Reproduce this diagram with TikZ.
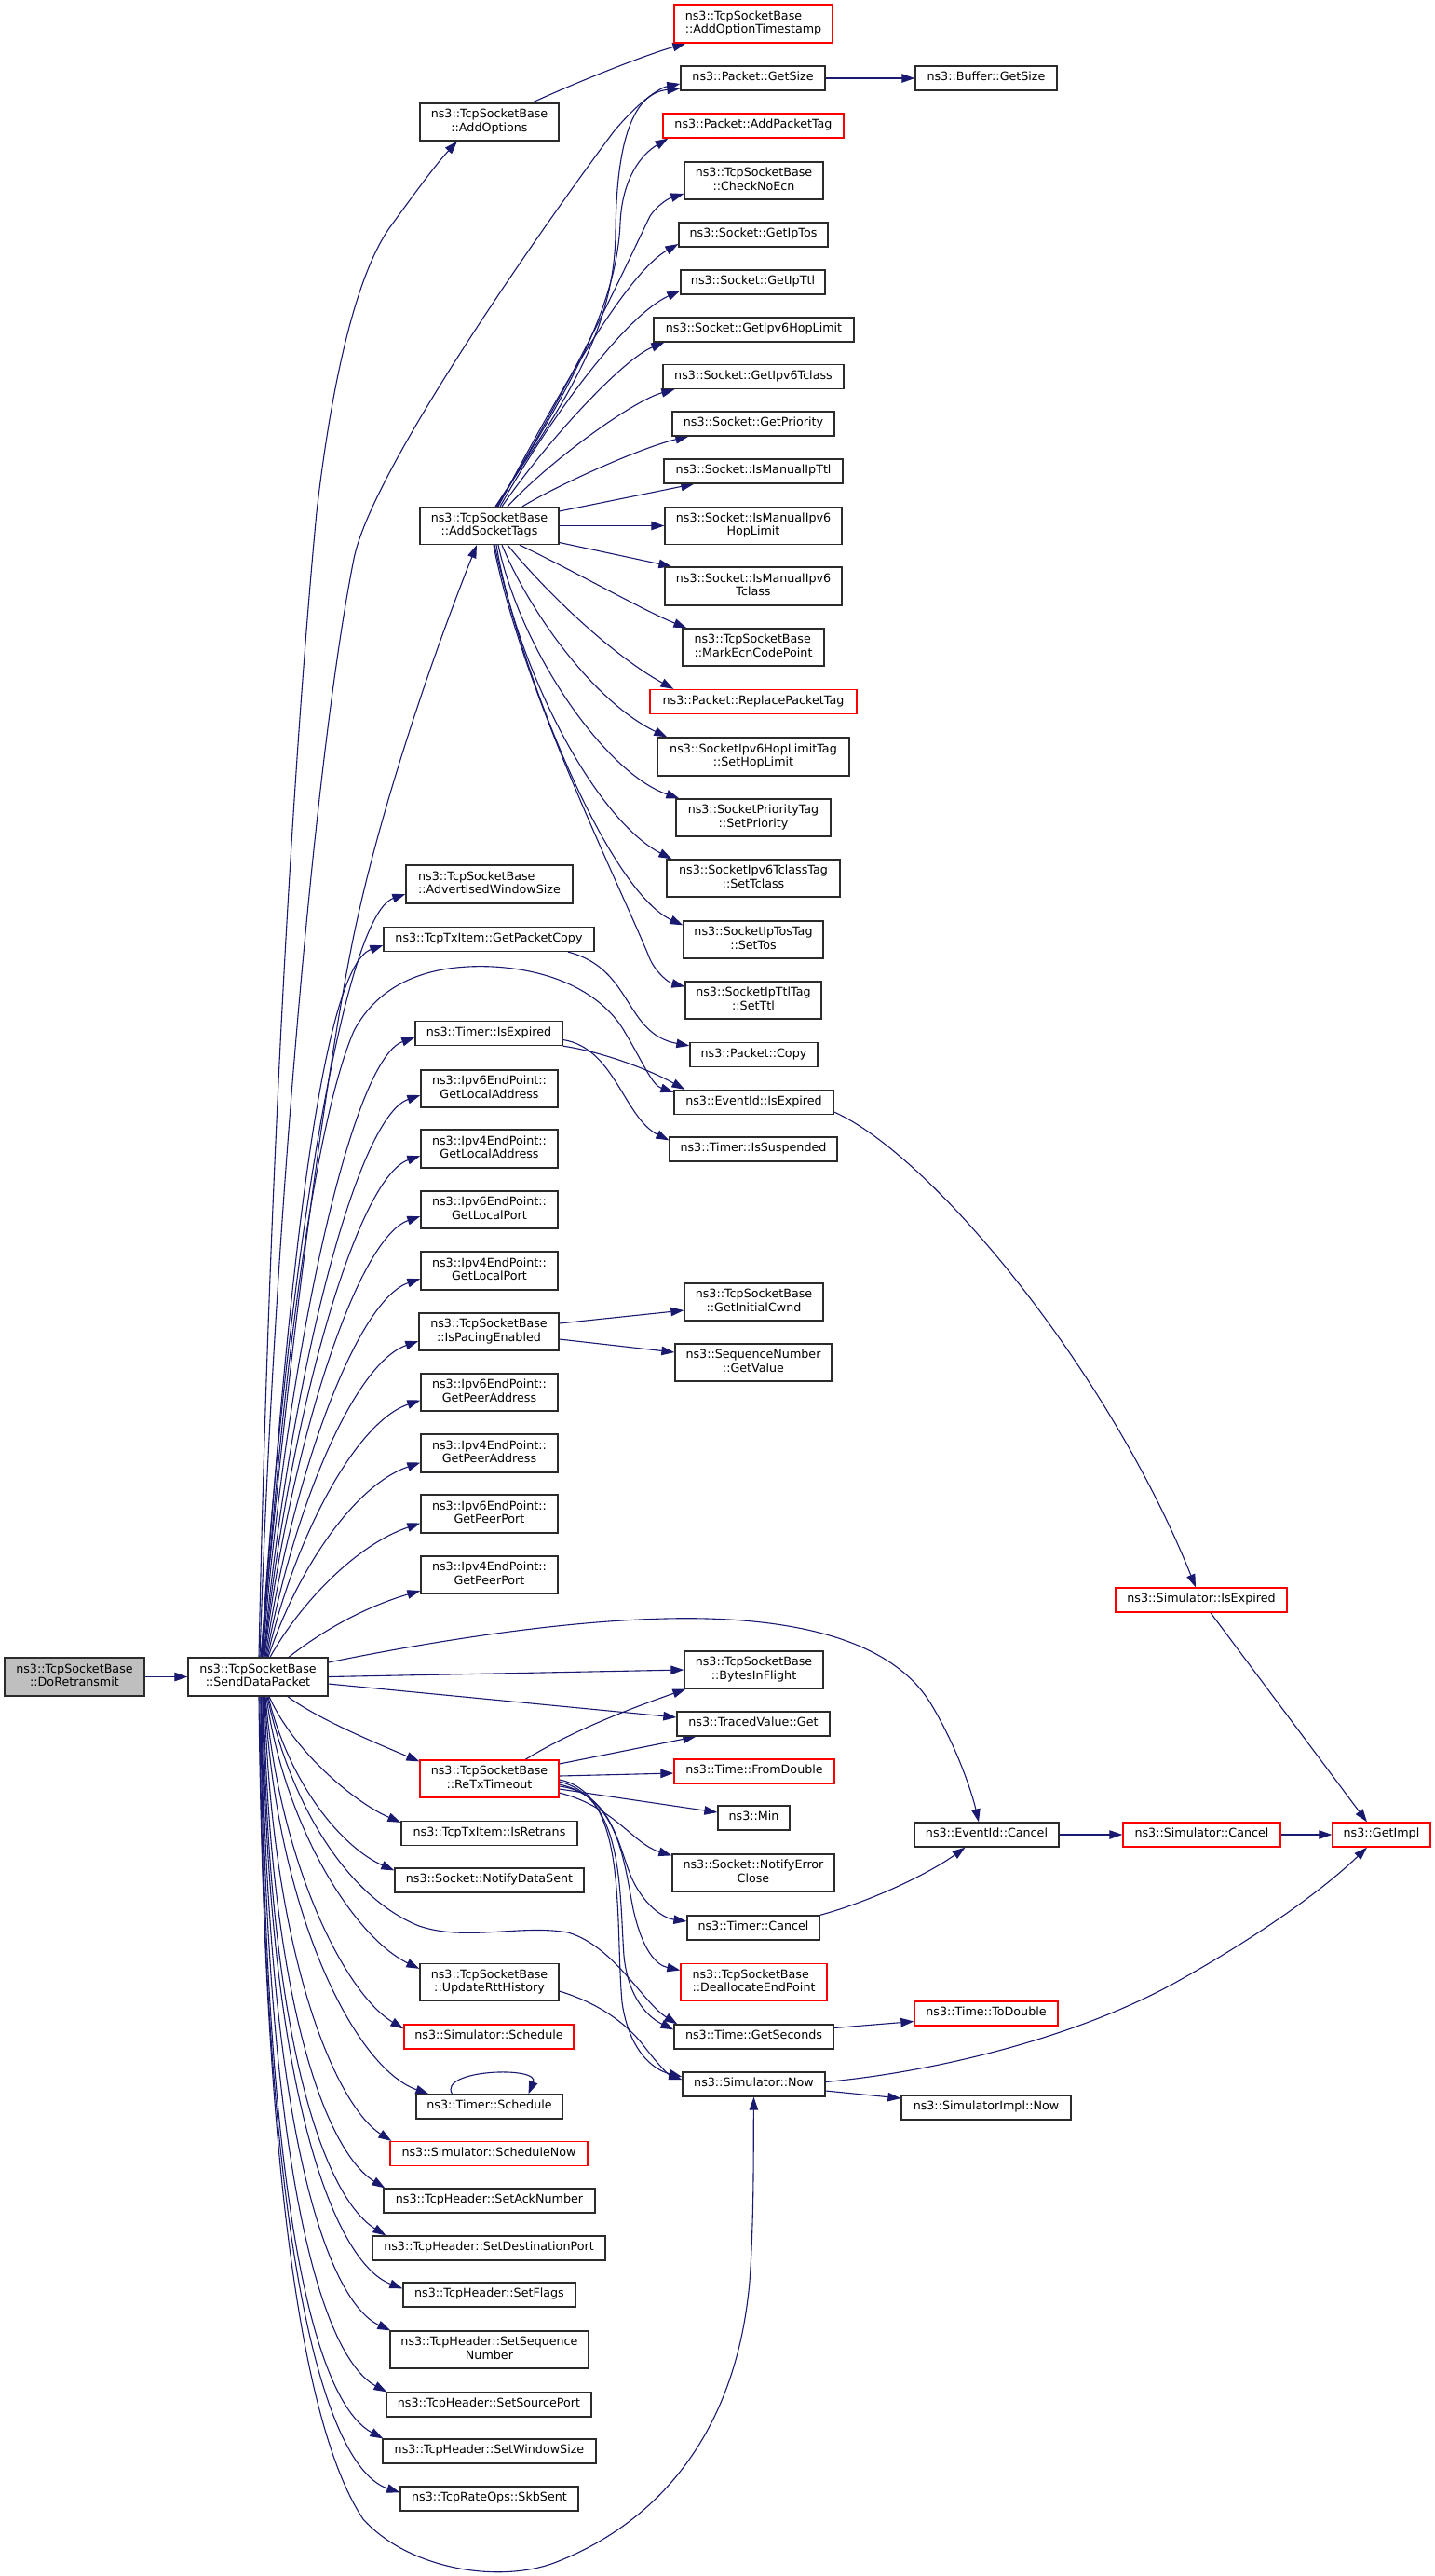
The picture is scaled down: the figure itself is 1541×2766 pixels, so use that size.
\documentclass[tikz,border=0pt]{standalone}
\usepackage{fontspec}
\setmainfont{DejaVu Sans}
\usetikzlibrary{arrows.meta}
\definecolor{edgec}{HTML}{191970}
\definecolor{boxc}{HTML}{2B2B2B}
\definecolor{grayfill}{HTML}{BFBFBF}
\pgfdeclarelayer{edges}
\pgfsetlayers{edges,main}
\begin{document}
\begin{tikzpicture}[x=1pt,y=-1pt,
  font=\fontsize{12.7pt}{14.8pt}\selectfont,
  nd/.style={draw=boxc, line width=1.3pt, fill=white, inner sep=0pt, align=center, text=black},
  rd/.style={nd, draw=red},
  e/.style={draw=edgec, line width=1.1pt, -{Triangle[length=14pt,width=9.5pt]}}]
\useasboundingbox (0,0) rectangle (1541,2766);
% ---------- nodes ----------
\node[nd, fill=grayfill, minimum width=150pt, minimum height=41pt] (doret) at (80,1800.5) {\strut ns3::TcpSocketBase\\\strut ::DoRetransmit};
\node[nd, minimum width=150pt, minimum height=41pt] (sdp) at (277,1800.5) {\strut ns3::TcpSocketBase\\\strut ::SendDataPacket};
\node[nd, minimum width=149pt, minimum height=40pt] (addopt) at (525.5,131) {\strut ns3::TcpSocketBase\\\strut ::AddOptions};
\node[rd, align=left, minimum width=170pt, minimum height=41pt] (addts) at (809,25.5) {\strut ns3::TcpSocketBase\\\strut ::AddOptionTimestamp};
\node[nd, minimum width=155pt, minimum height=26pt] (pgetsize) at (808.5,84) {\strut ns3::Packet::GetSize};
\node[nd, minimum width=152pt, minimum height=26pt] (bgetsize) at (1059,84) {\strut ns3::Buffer::GetSize};
\node[rd, minimum width=194pt, minimum height=26pt] (addpt) at (809,135) {\strut ns3::Packet::AddPacketTag};
\node[nd, minimum width=149pt, minimum height=40pt] (checknoecn) at (809.5,194) {\strut ns3::TcpSocketBase\\\strut ::CheckNoEcn};
\node[nd, minimum width=160pt, minimum height=26pt] (getiptos) at (809,252) {\strut ns3::Socket::GetIpTos};
\node[nd, minimum width=155pt, minimum height=26pt] (getipttl) at (808.5,303) {\strut ns3::Socket::GetIpTtl};
\node[nd, minimum width=215pt, minimum height=26pt] (getv6hl) at (809.5,354) {\strut ns3::Socket::GetIpv6HopLimit};
\node[nd, minimum width=194pt, minimum height=26pt] (getv6tc) at (809,404.5) {\strut ns3::Socket::GetIpv6Tclass};
\node[nd, minimum width=174pt, minimum height=26pt] (getprio) at (809,455) {\strut ns3::Socket::GetPriority};
\node[nd, minimum width=192pt, minimum height=26pt] (ismipttl) at (809,506) {\strut ns3::Socket::IsManualIpTtl};
\node[nd, minimum width=149pt, minimum height=40pt] (addsock) at (525.5,564.5) {\strut ns3::TcpSocketBase\\\strut ::AddSocketTags};
\node[nd, minimum width=190pt, minimum height=40pt] (ismv6hl) at (809,564.5) {\strut ns3::Socket::IsManualIpv6\\\strut HopLimit};
\node[nd, minimum width=190pt, minimum height=41pt] (ismv6tc) at (809,629.5) {\strut ns3::Socket::IsManualIpv6\\\strut Tclass};
\node[nd, align=left, minimum width=152pt, minimum height=40pt] (markecn) at (809,695) {\strut ns3::TcpSocketBase\\\strut ::MarkEcnCodePoint};
\node[rd, minimum width=222pt, minimum height=26pt] (replpt) at (809,753.5) {\strut ns3::Packet::ReplacePacketTag};
\node[nd, minimum width=206pt, minimum height=41pt] (sethl) at (809,812.5) {\strut ns3::SocketIpv6HopLimitTag\\\strut ::SetHopLimit};
\node[nd, minimum width=166pt, minimum height=40pt] (setprio) at (809,878) {\strut ns3::SocketPriorityTag\\\strut ::SetPriority};
\node[nd, minimum width=186pt, minimum height=40pt] (settc) at (809,943) {\strut ns3::SocketIpv6TclassTag\\\strut ::SetTclass};
\node[nd, minimum width=150pt, minimum height=40pt] (settos) at (809,1009) {\strut ns3::SocketIpTosTag\\\strut ::SetTos};
\node[nd, minimum width=146pt, minimum height=40pt] (setttl) at (809,1074) {\strut ns3::SocketIpTtlTag\\\strut ::SetTtl};
\node[nd, align=left, minimum width=179pt, minimum height=41pt] (advwin) at (525.5,949.5) {\strut ns3::TcpSocketBase\\\strut ::AdvertisedWindowSize};
\node[nd, minimum width=226pt, minimum height=26pt] (getpc) at (525,1008.5) {\strut ns3::TcpTxItem::GetPacketCopy};
\node[nd, minimum width=137pt, minimum height=26pt] (pcopy) at (809.5,1132.5) {\strut ns3::Packet::Copy};
\node[nd, minimum width=158pt, minimum height=26pt] (timexp) at (525,1109.5) {\strut ns3::Timer::IsExpired};
\node[nd, minimum width=171pt, minimum height=26pt] (evexp) at (809.5,1183.5) {\strut ns3::EventId::IsExpired};
\node[nd, minimum width=180pt, minimum height=26pt] (timsusp) at (809,1234) {\strut ns3::Timer::IsSuspended};
\node[nd, minimum width=147pt, minimum height=40pt] (v6la) at (525.5,1169) {\strut ns3::Ipv6EndPoint::\\\strut GetLocalAddress};
\node[nd, minimum width=147pt, minimum height=41pt] (v4la) at (525.5,1233.5) {\strut ns3::Ipv4EndPoint::\\\strut GetLocalAddress};
\node[nd, minimum width=147pt, minimum height=40pt] (v6lp) at (525.5,1299) {\strut ns3::Ipv6EndPoint::\\\strut GetLocalPort};
\node[nd, minimum width=147pt, minimum height=41pt] (v4lp) at (525.5,1364.5) {\strut ns3::Ipv4EndPoint::\\\strut GetLocalPort};
\node[nd, minimum width=150pt, minimum height=40pt] (pacing) at (525,1430) {\strut ns3::TcpSocketBase\\\strut ::IsPacingEnabled};
\node[nd, minimum width=149pt, minimum height=40pt] (initcwnd) at (809.5,1398) {\strut ns3::TcpSocketBase\\\strut ::GetInitialCwnd};
\node[nd, minimum width=168pt, minimum height=40pt] (seqval) at (809,1463) {\strut ns3::SequenceNumber\\\strut ::GetValue};
\node[nd, minimum width=147pt, minimum height=40pt] (v6pa) at (525.5,1495) {\strut ns3::Ipv6EndPoint::\\\strut GetPeerAddress};
\node[nd, minimum width=147pt, minimum height=41pt] (v4pa) at (525.5,1560.5) {\strut ns3::Ipv4EndPoint::\\\strut GetPeerAddress};
\node[nd, minimum width=147pt, minimum height=41pt] (v6pp) at (525.5,1625.5) {\strut ns3::Ipv6EndPoint::\\\strut GetPeerPort};
\node[nd, minimum width=147pt, minimum height=40pt] (v4pp) at (525.5,1691) {\strut ns3::Ipv4EndPoint::\\\strut GetPeerPort};
\node[rd, minimum width=184pt, minimum height=26pt] (simexp) at (1290,1718) {\strut ns3::Simulator::IsExpired};
\node[nd, minimum width=149pt, minimum height=40pt] (bif) at (809.5,1793) {\strut ns3::TcpSocketBase\\\strut ::BytesInFlight};
\node[nd, minimum width=164pt, minimum height=26pt] (tvget) at (809,1851) {\strut ns3::TracedValue::Get};
\node[rd, minimum width=149pt, minimum height=40pt] (retx) at (525.5,1910) {\strut ns3::TcpSocketBase\\\strut ::ReTxTimeout};
\node[rd, minimum width=172pt, minimum height=26pt] (fromdbl) at (810,1902) {\strut ns3::Time::FromDouble};
\node[nd, minimum width=77pt, minimum height=26pt] (min) at (809.5,1952) {\strut ns3::Min};
\node[nd, minimum width=189pt, minimum height=26pt] (isretrans) at (525.5,1968.5) {\strut ns3::TcpTxItem::IsRetrans};
\node[nd, minimum width=155pt, minimum height=26pt] (evcancel) at (1059.5,1970) {\strut ns3::EventId::Cancel};
\node[rd, minimum width=169pt, minimum height=26pt] (simcancel) at (1290.5,1970) {\strut ns3::Simulator::Cancel};
\node[rd, minimum width=105pt, minimum height=26pt] (getimpl) at (1483.5,1970) {\strut ns3::GetImpl};
\node[nd, minimum width=174pt, minimum height=40pt] (errclose) at (809,2011) {\strut ns3::Socket::NotifyError\\\strut Close};
\node[nd, minimum width=203pt, minimum height=26pt] (datasent) at (525.5,2019) {\strut ns3::Socket::NotifyDataSent};
\node[nd, minimum width=142pt, minimum height=26pt] (tcancel) at (809,2070) {\strut ns3::Timer::Cancel};
\node[rd, align=left, minimum width=157pt, minimum height=40pt] (dealloc) at (809.5,2128.5) {\strut ns3::TcpSocketBase\\\strut ::DeallocateEndPoint};
\node[nd, minimum width=149pt, minimum height=40pt] (rtthist) at (525.5,2128.5) {\strut ns3::TcpSocketBase\\\strut ::UpdateRttHistory};
\node[rd, minimum width=154pt, minimum height=26pt] (todbl) at (1059,2162) {\strut ns3::Time::ToDouble};
\node[rd, minimum width=182pt, minimum height=26pt] (simsched) at (525,2187) {\strut ns3::Simulator::Schedule};
\node[nd, minimum width=171pt, minimum height=26pt] (getsec) at (809.5,2187) {\strut ns3::Time::GetSeconds};
\node[nd, minimum width=153pt, minimum height=26pt] (simnow) at (809.5,2238) {\strut ns3::Simulator::Now};
\node[nd, minimum width=182pt, minimum height=26pt] (implnow) at (1059,2263) {\strut ns3::SimulatorImpl::Now};
\node[nd, minimum width=157pt, minimum height=26pt] (tsched) at (525.5,2262) {\strut ns3::Timer::Schedule};
\node[rd, minimum width=212pt, minimum height=26pt] (schednow) at (525,2312.5) {\strut ns3::Simulator::ScheduleNow};
\node[nd, minimum width=227pt, minimum height=26pt] (setack) at (525.5,2363) {\strut ns3::TcpHeader::SetAckNumber};
\node[nd, minimum width=250pt, minimum height=26pt] (setdst) at (525,2414) {\strut ns3::TcpHeader::SetDestinationPort};
\node[nd, minimum width=185pt, minimum height=26pt] (setflags) at (525.5,2464) {\strut ns3::TcpHeader::SetFlags};
\node[nd, minimum width=213pt, minimum height=40pt] (setseq) at (525.5,2523) {\strut ns3::TcpHeader::SetSequence\\\strut Number};
\node[nd, minimum width=220pt, minimum height=26pt] (setsrc) at (525,2582) {\strut ns3::TcpHeader::SetSourcePort};
\node[nd, minimum width=229pt, minimum height=26pt] (setwin) at (525.5,2632) {\strut ns3::TcpHeader::SetWindowSize};
\node[nd, minimum width=191pt, minimum height=26pt] (skb) at (525.5,2683) {\strut ns3::TcpRateOps::SkbSent};
% ---------- edges ----------
\begin{pgfonlayer}{edges}
\fill[white] (0,0) rectangle (1541,2766);
\draw[e] (doret.east) -- (sdp.west);
\draw[e] (pgetsize.east) -- (bgetsize.west);
\draw[e] ([xshift=45.5pt]addopt.north) .. controls (620,88) and (690,60) .. ([xshift=13pt]addts.south west);
% sdp upward fan
\draw[e] ([xshift=1pt]sdp.north) .. controls (290,1200) and (320,760) .. (340,550) .. controls (355,420) and (380,300) .. (418,245) .. controls (440,215) and (465,180) .. ([xshift=-34.5pt]addopt.south);
\draw[e] ([xshift=2pt]sdp.north) .. controls (295,1300) and (340,800) .. (380,600) .. controls (400,500) and (600,220) .. (660,140) .. controls (690,105) and (710,94) .. ([yshift=-6pt]pgetsize.west);
\draw[e] ([xshift=3pt]sdp.north) .. controls (310,1450) and (350,1150) .. (380,1004) .. controls (410,860) and (470,690) .. ([xshift=-13.5pt]addsock.south);
\draw[e] ([xshift=3.5pt]sdp.north) .. controls (304,1399) and (366,984) .. ([yshift=-10.5pt]advwin.west);
\draw[e] ([xshift=4pt]sdp.north) .. controls (305,1424) and (342,1039) .. ([yshift=-6.5pt]getpc.west);
\draw[e] ([xshift=4.5pt]sdp.north) .. controls (305,1450) and (340,1200) .. (380,1107) .. controls (410,1050) and (470,1035) .. (530,1038) .. controls (600,1042) and (650,1070) .. (672,1110) .. controls (690,1140) and (700,1165) .. ([yshift=-3pt]evexp.north west);
\draw[e] ([xshift=5pt]sdp.north) .. controls (306,1470) and (376,1138) .. ([yshift=-4.5pt]timexp.west);
\draw[e] ([xshift=6pt]sdp.north) .. controls (308,1499) and (381,1200) .. ([yshift=-7pt]v6la.west);
\draw[e] ([xshift=6.5pt]sdp.north) .. controls (309,1529) and (382,1265) .. ([yshift=-7.5pt]v4la.west);
\draw[e] ([xshift=7pt]sdp.north) .. controls (310,1560) and (382,1330) .. ([yshift=-7pt]v6lp.west);
\draw[e] ([xshift=8pt]sdp.north) .. controls (312,1591) and (382,1397) .. ([yshift=-8.5pt]v4lp.west);
\draw[e] ([xshift=9pt]sdp.north) .. controls (314,1622) and (380,1464) .. ([yshift=-10pt]pacing.west);
\draw[e] ([xshift=10pt]sdp.north) .. controls (316,1651) and (382,1527) .. ([yshift=-8.5pt]v6pa.west);
\draw[e] ([xshift=11pt]sdp.north) .. controls (320,1683) and (382,1594) .. ([yshift=-10pt]v4pa.west);
\draw[e] ([xshift=13pt]sdp.north) .. controls (322,1722) and (382,1659) .. ([yshift=-10pt]v6pp.west);
\draw[e] ([xshift=33pt]sdp.north) .. controls (345,1752) and (390,1726) .. ([yshift=-17pt]v4pp.west);
% sdp right side
\draw[e] ([yshift=15.5pt]sdp.east) .. controls (500,1755) and (650,1735) .. (760,1738) .. controls (900,1742) and (970,1780) .. (1000,1830) .. controls (1030,1880) and (1045,1930) .. ([xshift=-8.5pt]evcancel.north);
\draw[e] (sdp.east) -- (bif.west);
\draw[e] ([yshift=-7.5pt]sdp.east) -- ([yshift=7pt]tvget.west);
% sdp downward fan
\draw[e] ([xshift=32pt]sdp.south) .. controls (340,1845) and (400,1870) .. ([yshift=-2pt]retx.north west);
\draw[e] ([xshift=12pt]sdp.south) .. controls (315,1880) and (380,1935) .. ([yshift=-2pt]isretrans.north west);
\draw[e] ([xshift=11pt]sdp.south) .. controls (312,1920) and (370,1985) .. ([yshift=-3pt]datasent.north west);
\draw[e] ([xshift=10pt]sdp.south) .. controls (315,1950) and (380,2040) .. (450,2068) .. controls (500,2085) and (560,2066) .. (610,2075) .. controls (660,2090) and (690,2150) .. ([xshift=4pt]getsec.north west);
\draw[e] ([xshift=9pt]sdp.south) .. controls (305,1960) and (380,2080) .. ([yshift=-6pt]rtthist.north west);
\draw[e] ([xshift=8pt]sdp.south) .. controls (300,2000) and (370,2140) .. ([yshift=-5pt]simsched.north west);
\draw[e] ([xshift=7.5pt]sdp.south) .. controls (296,2050) and (380,2220) .. ([xshift=14pt]tsched.north west);
\draw[e] ([xshift=7pt]sdp.south) .. controls (292,2100) and (360,2260) .. ([xshift=2pt]schednow.north west);
\draw[e] ([xshift=6pt]sdp.south) .. controls (290,2150) and (350,2310) .. ([xshift=2pt]setack.north west);
\draw[e] ([xshift=5.5pt]sdp.south) .. controls (288,2200) and (350,2360) .. ([xshift=15pt]setdst.north west);
\draw[e] ([xshift=5pt]sdp.south) .. controls (286,2250) and (360,2430) .. ([yshift=-7pt]setflags.north west);
\draw[e] ([xshift=4pt]sdp.south) .. controls (285,2280) and (350,2470) .. ([xshift=1pt]setseq.north west);
\draw[e] ([xshift=3.5pt]sdp.south) .. controls (284,2330) and (345,2530) .. ([xshift=1pt]setsrc.north west);
\draw[e] ([xshift=3pt]sdp.south) .. controls (283,2380) and (340,2580) .. ([xshift=1pt]setwin.north west);
\draw[e] ([xshift=2pt]sdp.south) .. controls (282,2430) and (350,2650) .. ([yshift=-7pt]skb.north west);
\draw[e] ([xshift=1pt]sdp.south) .. controls (283,2300) and (320,2600) .. (390,2705) .. controls (440,2760) and (540,2775) .. (600,2750) .. controls (700,2710) and (790,2620) .. (805,2450) .. controls (810,2380) and (809,2300) .. (simnow.south);
% AddSocketTags fan
\draw[e] ([xshift=6.5pt]addsock.north) .. controls (600,440) and (660,360) .. (661,250) .. controls (662,150) and (680,100) .. ([yshift=-11pt]pgetsize.west);
\draw[e] ([xshift=7.5pt]addsock.north) .. controls (610,420) and (662,330) .. (666,240) .. controls (668,190) and (690,165) .. ([xshift=6pt]addpt.south west);
\draw[e] ([xshift=8.5pt]addsock.north) .. controls (620,400) and (670,290) .. (698,232) .. controls (706,220) and (718,213) .. ([yshift=-14pt]checknoecn.west);
\draw[e] ([xshift=9.5pt]addsock.north) .. controls (590,440) and (670,295) .. ([yshift=-10pt]getiptos.west);
\draw[e] ([xshift=11.5pt]addsock.north) .. controls (590,450) and (670,340) .. ([yshift=-9pt]getipttl.west);
\draw[e] ([xshift=13.5pt]addsock.north) .. controls (590,470) and (670,385) .. ([xshift=12pt]getv6hl.south west);
\draw[e] ([xshift=19.5pt]addsock.north) .. controls (590,495) and (680,430) .. ([xshift=13pt]getv6tc.south west);
\draw[e] ([xshift=35.5pt]addsock.north) .. controls (600,520) and (690,480) .. ([xshift=18pt]getprio.south west);
\draw[e] ([yshift=15.5pt]addsock.east) -- ([xshift=33pt]ismipttl.south west);
\draw[e] (addsock.east) -- (ismv6hl.west);
\draw[e] ([yshift=-18pt]addsock.east) -- ([xshift=8pt]ismv6tc.north west);
\draw[e] ([xshift=32.5pt]addsock.south) .. controls (620,615) and (690,655) .. ([xshift=5pt]markecn.north west);
\draw[e] ([xshift=19.5pt]addsock.south) .. controls (590,640) and (660,705) .. ([xshift=26pt]replpt.north west);
\draw[e] ([xshift=13.5pt]addsock.south) .. controls (570,660) and (640,755) .. ([xshift=11pt]sethl.north west);
\draw[e] ([xshift=9.5pt]addsock.south) .. controls (560,700) and (650,830) .. ([xshift=4pt]setprio.north west);
\draw[e] ([xshift=7.5pt]addsock.south) .. controls (555,720) and (640,880) .. ([xshift=6pt]settc.north west);
\draw[e] ([xshift=5.5pt]addsock.south) .. controls (570,760) and (660,960) .. ([yshift=-5pt]settos.north west);
\draw[e] ([xshift=4.5pt]addsock.south) .. controls (560,740) and (670,960) .. (698,1030) .. controls (705,1045) and (718,1055) .. ([yshift=-6pt]setttl.north west);
% middle
\draw[e] ([xshift=85pt]getpc.south) .. controls (680,1040) and (670,1110) .. ([yshift=-4pt]pcopy.north west);
\draw[e] ([yshift=-7pt]timexp.east) .. controls (660,1125) and (670,1200) .. ([yshift=-4pt]timsusp.north west);
\draw[e] (timexp.south east) .. controls (650,1130) and (700,1150) .. ([xshift=12pt]evexp.north west);
\draw[e] ([yshift=9pt]pacing.east) -- ([yshift=-9pt]initcwnd.west);
\draw[e] ([yshift=-8pt]pacing.east) -- ([yshift=11pt]seqval.west);
\draw[e] ([yshift=-10.5pt]evexp.east) .. controls (1000,1240) and (1190,1470) .. ([xshift=-6pt]simexp.north);
\draw[e] ([xshift=10pt]simexp.south) -- ([xshift=-15.5pt]getimpl.north);
% ReTxTimeout
\draw[e] ([xshift=38.5pt]retx.north) .. controls (620,1855) and (690,1830) .. ([xshift=2pt]bif.south west);
\draw[e] ([yshift=16pt]retx.east) -- ([xshift=21pt]tvget.south west);
\draw[e] ([yshift=3pt]retx.east) -- ([yshift=-2pt]fromdbl.west);
\draw[e] ([yshift=-11pt]retx.east) -- ([yshift=6pt]min.west);
\draw[e] ([yshift=-15pt]retx.east) .. controls (660,1940) and (680,1980) .. ([yshift=-2pt]errclose.north west);
\draw[e] ([yshift=-8pt]retx.east) .. controls (660,1925) and (665,1990) .. (680,2020) .. controls (695,2050) and (715,2060) .. ([yshift=7pt]tcancel.west);
\draw[e] ([yshift=-6pt]retx.east) .. controls (665,1930) and (670,2000) .. (680,2050) .. controls (690,2095) and (705,2110) .. ([yshift=13pt]dealloc.west);
\draw[e] ([yshift=-3pt]retx.east) .. controls (670,1930) and (665,2030) .. (670,2100) .. controls (675,2150) and (700,2168) .. ([yshift=-6pt]getsec.north west);
\draw[e] ([yshift=-1pt]retx.east) .. controls (675,1925) and (660,2060) .. (668,2150) .. controls (675,2200) and (700,2222) .. ([yshift=8pt]simnow.west);
\draw[e] ([yshift=-9.5pt]rtthist.east) .. controls (640,2150) and (670,2170) .. (690,2195) .. controls (705,2215) and (718,2228) .. ([yshift=5pt]simnow.west);
% lower right
\draw[e] ([yshift=9.5pt]getsec.east) -- ([yshift=-8.5pt]todbl.west);
\draw[e] ([yshift=-7pt]simnow.east) -- ([yshift=10pt]implnow.west);
\draw[e] ([yshift=2.5pt]simnow.east) .. controls (1000,2225) and (1150,2190) .. (1260,2130) .. controls (1350,2080) and (1420,2030) .. ([xshift=-15.5pt]getimpl.south);
\draw[e] (evcancel.east) -- (simcancel.west);
\draw[e] (simcancel.east) -- (getimpl.west);
\draw[e] (tcancel.north east) .. controls (940,2040) and (1000,2010) .. ([xshift=-23pt]evcancel.south);
\draw[e] ([xshift=-40pt]tsched.north) .. controls (470,2222) and (580,2218) .. ([xshift=42pt]tsched.north);
\end{pgfonlayer}
\end{tikzpicture}
\end{document}
